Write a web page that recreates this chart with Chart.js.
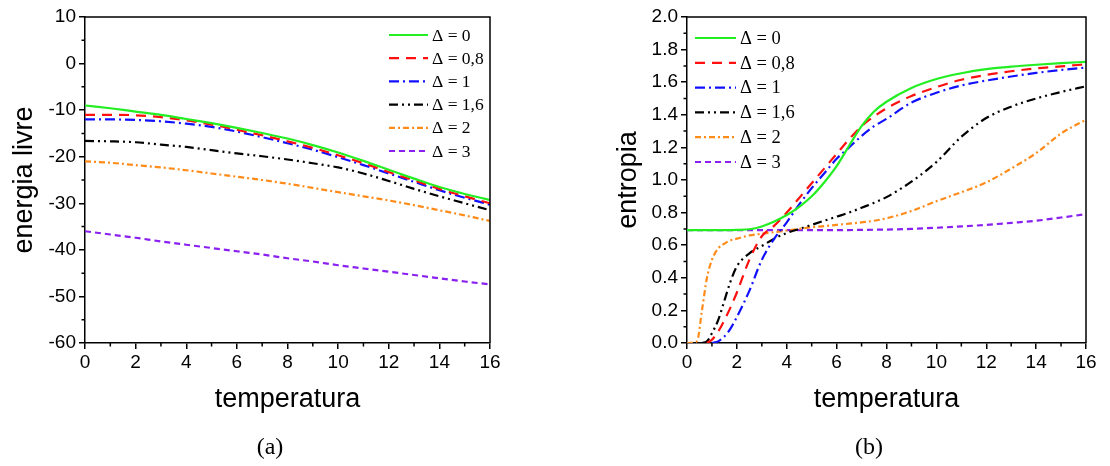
<!DOCTYPE html>
<html>
<head>
<meta charset="utf-8">
<script src="https://cdn.jsdelivr.net/npm/chart.js@4/dist/chart.umd.min.js"></script>
<style>
  html, body { margin:0; padding:0; background:#fff; width:1110px; height:466px; overflow:hidden; }
  .wrap { position:absolute; top:0; width:555px; height:466px; }
  .cap { position:absolute; top:433px; font-family:"Liberation Serif","DejaVu Serif",serif; font-size:24px; color:#000; width:60px; text-align:center; }
</style>
</head>
<body>
<div class="wrap" style="left:0"><canvas id="ca" width="555" height="466"></canvas></div>
<div class="wrap" style="left:555px"><canvas id="cb" width="555" height="466"></canvas></div>
<div class="cap" style="left:240px">(a)</div>
<div class="cap" style="left:839px">(b)</div>
<script>
// ---------- DATA ----------
const seriesLabels = ['Δ = 0', 'Δ = 0,8', 'Δ = 1', 'Δ = 1,6', 'Δ = 2', 'Δ = 3'];

// (a) energia livre vs temperatura
const tempA = [0,1,2,3,4,5,6,7,8,9,10,11,12,13,14,15,16];
const freeD0  = [-9.0,-9.6,-10.3,-11.0,-11.9,-12.8,-13.8,-14.9,-16.1,-17.5,-19.1,-20.9,-22.8,-24.7,-26.5,-28.0,-29.3];
const freeD08 = [-11.0,-11.0,-11.1,-11.5,-12.2,-13.1,-14.2,-15.4,-16.7,-18.1,-19.7,-21.4,-23.3,-25.1,-26.9,-28.5,-30.0];
const freeD1  = [-12.0,-12.0,-12.1,-12.4,-12.9,-13.6,-14.6,-15.8,-17.1,-18.5,-20.1,-21.8,-23.6,-25.4,-27.2,-28.8,-30.3];
const freeD16 = [-16.6,-16.7,-16.9,-17.4,-17.9,-18.6,-19.3,-19.9,-20.6,-21.4,-22.3,-23.6,-25.2,-26.9,-28.5,-30.0,-31.5];
const freeD2  = [-21.0,-21.3,-21.8,-22.3,-22.9,-23.6,-24.3,-25.0,-25.8,-26.7,-27.6,-28.5,-29.4,-30.4,-31.5,-32.6,-33.8];
const freeD3  = [-36.0,-36.7,-37.4,-38.2,-38.9,-39.6,-40.3,-41.0,-41.8,-42.5,-43.3,-44.0,-44.7,-45.4,-46.1,-46.8,-47.4];

// (b) entropia vs temperatura
const tempB = [0,0.4,0.6,0.8,1,1.25,1.5,1.75,2,2.5,3,3.5,4,4.5,5,5.5,6,6.5,7,7.5,8,9,10,11,12,13,14,15,16];
const entD0  = [0.693,0.693,0.693,0.693,0.693,0.693,0.693,0.693,0.694,0.698,0.715,0.745,0.785,0.835,0.90,0.985,1.085,1.21,1.33,1.42,1.48,1.565,1.62,1.655,1.68,1.695,1.707,1.717,1.725];
const entD08 = [null,null,null,0,0.02,0.07,0.14,0.22,0.31,0.51,0.655,0.72,0.80,0.89,0.98,1.07,1.16,1.25,1.33,1.39,1.44,1.515,1.57,1.615,1.645,1.667,1.685,1.697,1.71];
const entD1  = [null,null,null,null,0,0.01,0.04,0.09,0.16,0.32,0.51,0.64,0.74,0.85,0.95,1.04,1.13,1.20,1.27,1.33,1.375,1.475,1.535,1.58,1.61,1.635,1.657,1.675,1.69];
const entD16 = [null,null,0,0.01,0.06,0.14,0.26,0.38,0.47,0.55,0.595,0.64,0.675,0.70,0.725,0.75,0.775,0.80,0.83,0.86,0.895,0.99,1.11,1.265,1.38,1.45,1.50,1.54,1.575];
const entD2  = [0,0.01,0.2,0.40,0.51,0.58,0.61,0.63,0.64,0.66,0.67,0.68,0.69,0.70,0.71,0.717,0.725,0.732,0.74,0.75,0.765,0.81,0.87,0.925,0.985,1.07,1.165,1.285,1.37];
const entD3  = [0.693,0.693,0.693,0.693,0.693,0.693,0.693,0.693,0.693,0.693,0.693,0.693,0.693,0.693,0.693,0.693,0.693,0.693,0.694,0.695,0.696,0.70,0.707,0.715,0.725,0.737,0.75,0.77,0.79];

// ---------- STYLES ----------
const styles = [
  { color:'#22ee22', dash:[] },
  { color:'#ff1010', dash:[10,7] },
  { color:'#1010ff', dash:[10,4,2,4] },
  { color:'#000000', dash:[9,4,2,4,2,4] },
  { color:'#ff8c1a', dash:[6,3,2,3] },
  { color:'#8a20f0', dash:[6,4] }
];

function makeDatasets(xs, ys) {
  return ys.map((arr, i) => ({
    label: seriesLabels[i],
    data: xs.map((x, j) => ({ x: x, y: arr[j] })),
    borderColor: styles[i].color,
    borderDash: styles[i].dash,
    borderWidth: 2.2,
    pointRadius: 0,
    fill: false,
    cubicInterpolationMode: 'monotone',
    spanGaps: false
  }));
}

const framePlugin = {
  id: 'frame',
  afterDatasetsDraw(chart, args, o) {
    const { ctx, chartArea: a, scales } = chart;
    ctx.save();
    ctx.strokeStyle = '#000';
    ctx.lineWidth = 1.5;
    ctx.setLineDash([]);
    ctx.beginPath();
    ctx.moveTo(a.left, a.top); ctx.lineTo(a.right, a.top); ctx.lineTo(a.right, a.bottom);
    ctx.stroke();
    ctx.beginPath();
    o.xMinor.forEach(v => { const x = scales.x.getPixelForValue(v); ctx.moveTo(x, a.bottom); ctx.lineTo(x, a.bottom + o.len); });
    o.yMinor.forEach(v => { const y = scales.y.getPixelForValue(v); ctx.moveTo(a.left, y); ctx.lineTo(a.left - o.len, y); });
    ctx.stroke();
    ctx.restore();
  }
};

const legendPlugin = {
  id: 'lineLegend',
  afterDraw(chart, args, o) {
    const { ctx } = chart;
    ctx.save();
    chart.data.datasets.forEach((ds, i) => {
      const y = o.y + i * o.rowH;
      ctx.strokeStyle = ds.borderColor;
      ctx.lineWidth = ds.borderWidth;
      ctx.setLineDash(ds.borderDash);
      ctx.beginPath(); ctx.moveTo(o.x, y); ctx.lineTo(o.x + o.len, y); ctx.stroke();
      ctx.setLineDash([]);
      ctx.fillStyle = '#000';
      ctx.font = o.size + 'px "Liberation Serif", "Times New Roman", serif';
      ctx.textBaseline = 'middle';
      ctx.textAlign = 'left';
      ctx.fillText(ds.label, o.x + o.len + 4, y + 1);
    });
    ctx.restore();
  }
};

const tickFont = { family: '"Liberation Sans", Arial, sans-serif', size: 19 };
const titleFont = { family: '"Liberation Sans", Arial, sans-serif', size: 27 };

function odd(n) { const r = []; for (let v = 1; v < n; v += 2) r.push(v); return r; }

function baseOptions(cfg) {
  return {
    responsive: false,
    animation: false,
    layout: { padding: cfg.padding },
    plugins: {
      legend: { display: false },
      tooltip: { enabled: false },
      frame: cfg.frame,
      lineLegend: cfg.legend
    },
    scales: {
      x: {
        type: 'linear', min: 0, max: 16,
        afterFit: s => { s.height = cfg.xHeight; },
        ticks: { stepSize: 2, font: tickFont, color: '#000', padding: 2, maxRotation: 0 },
        grid: { drawOnChartArea: false, tickLength: 6, color: '#000', lineWidth: 1.5 },
        border: { color: '#000', width: 1.5 },
        title: { display: true, text: 'temperatura', font: titleFont, color: '#000', padding: 0 }
      },
      y: {
        type: 'linear', min: cfg.yMin, max: cfg.yMax,
        afterFit: s => { s.width = cfg.yWidth; },
        ticks: { stepSize: cfg.yStep, font: tickFont, color: '#000', padding: 3, callback: cfg.yFmt },
        grid: { drawOnChartArea: false, tickLength: 6, color: '#000', lineWidth: 1.5 },
        border: { color: '#000', width: 1.5 },
        title: { display: true, text: cfg.yTitle, font: titleFont, color: '#000', padding: { top: cfg.yTitlePad, bottom: 0 } }
      }
    }
  };
}

new Chart(document.getElementById('ca'), {
  type: 'line',
  data: { datasets: makeDatasets(tempA, [freeD0, freeD08, freeD1, freeD16, freeD2, freeD3]) },
  options: baseOptions({
    padding: { top: 17, right: 65, bottom: 50, left: 0 },
    xHeight: 73, yWidth: 85,
    yMin: -60, yMax: 10, yStep: 10, yFmt: v => v,
    yTitle: 'energia livre', yTitlePad: 8,
    frame: { xMinor: odd(16), yMinor: [-55,-45,-35,-25,-15,-5,5], len: 3.5 },
    legend: { x: 389, y: 35, rowH: 23.2, len: 39, size: 17.5 }
  }),
  plugins: [framePlugin, legendPlugin]
});

new Chart(document.getElementById('cb'), {
  type: 'line',
  data: { datasets: makeDatasets(tempB, [entD0, entD08, entD1, entD16, entD2, entD3]) },
  options: baseOptions({
    padding: { top: 17, right: 24, bottom: 50, left: 0 },
    xHeight: 73, yWidth: 132,
    yMin: 0, yMax: 2, yStep: 0.2, yFmt: v => Number(v).toFixed(1),
    yTitle: 'entropia', yTitlePad: 57,
    frame: { xMinor: odd(16), yMinor: [0.1,0.3,0.5,0.7,0.9,1.1,1.3,1.5,1.7,1.9], len: 3.5 },
    legend: { x: 140, y: 38, rowH: 24.8, len: 41, size: 18.5 }
  }),
  plugins: [framePlugin, legendPlugin]
});
</script>
</body>
</html>
